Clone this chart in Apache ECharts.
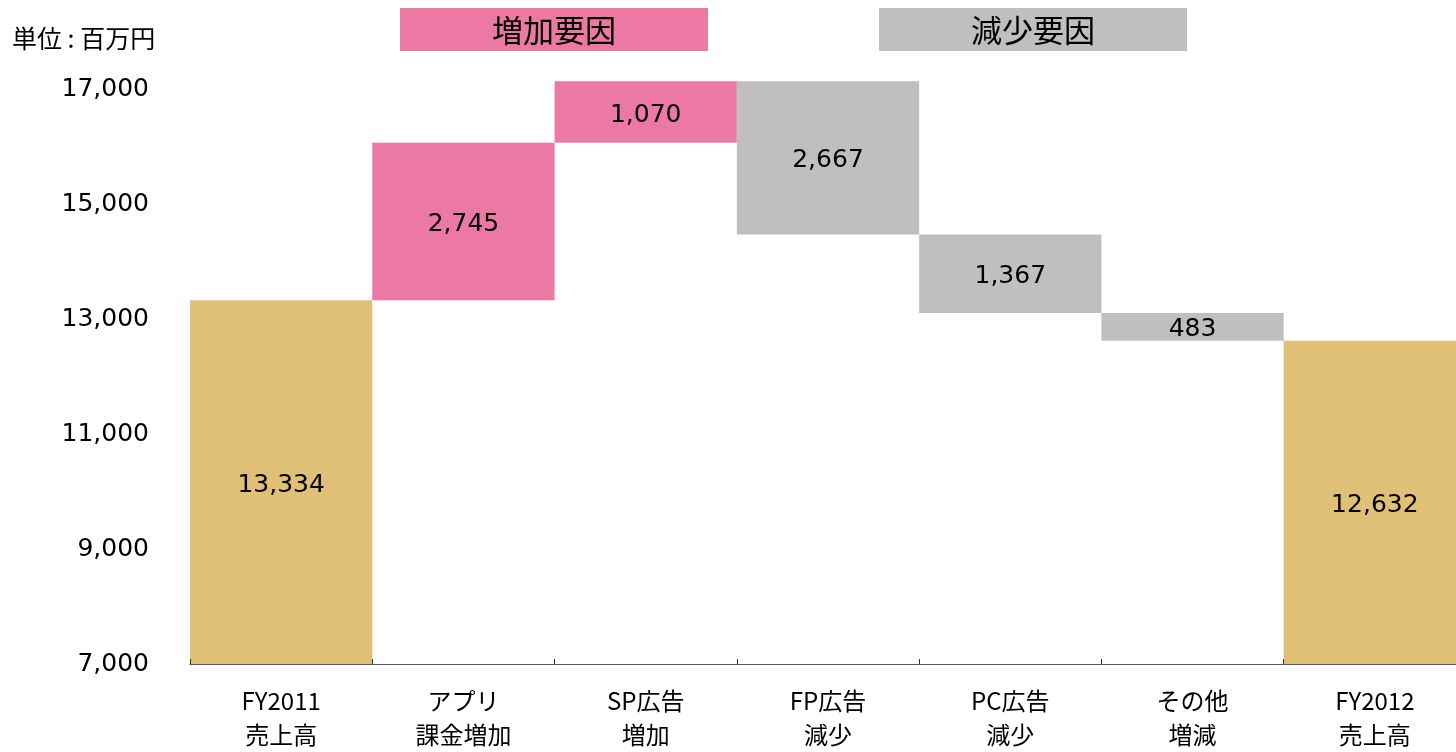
<!DOCTYPE html>
<html>
<head>
<meta charset="utf-8">
<title>売上高 増減要因</title>
<script src="https://cdn.jsdelivr.net/npm/echarts@6/dist/echarts.min.js"></script>
<style>
  html, body { margin: 0; padding: 0; background: #fff; overflow: hidden; }
  /* the last column runs slightly past the right edge of the page */
  #chart { width: 1466px; height: 752px; }
</style>
</head>
<body>
<div id="chart"></div>
<script>
// Categories (two-line axis labels)
const categories = ['FY2011\n売上高', 'アプリ\n課金増加', 'SP広告\n増加', 'FP広告\n減少', 'PC広告\n減少', 'その他\n増減', 'FY2012\n売上高'];

// Values in 百万円
const startTotal = 13334;            // FY2011 売上高
const increases = [2745, 1070];      // アプリ課金増加, SP広告増加
const decreases = [2667, 1367, 483]; // FP広告減少, PC広告減少, その他増減
const endTotal = 12632;              // FY2012 売上高

// Y-axis tick labels
const yTicks = [7000, 9000, 11000, 13000, 15000, 17000];

const COLOR_TOTAL = '#E0C076';
const COLOR_UP = '#EC79A3';
const COLOR_DOWN = '#BFBFBF';

// Build the waterfall: invisible base + visible step
const baseData = [];
const stepData = [];
let running = startTotal;
baseData.push(0);
stepData.push({ value: startTotal, itemStyle: { color: COLOR_TOTAL } });
increases.forEach(v => {
  baseData.push(running);
  stepData.push({ value: v, itemStyle: { color: COLOR_UP } });
  running += v;
});
decreases.forEach(v => {
  running -= v;
  baseData.push(running);
  stepData.push({ value: v, itemStyle: { color: COLOR_DOWN } });
});
baseData.push(0);
stepData.push({ value: endTotal, itemStyle: { color: COLOR_TOTAL } });

const fmt = v => Number(v).toLocaleString('en-US');
const JP = '"Noto Sans CJK JP", sans-serif';
const NUM = '"DejaVu Sans", sans-serif';

const chart = echarts.init(document.getElementById('chart'), null, { renderer: 'canvas' });
chart.setOption({
  animation: false,
  backgroundColor: '#ffffff',
  grid: { left: 190, right: 0, top: 78.4, bottom: 82, containLabel: false },
  xAxis: {
    type: 'category',
    data: categories,
    z: 10,
    axisLine: { lineStyle: { color: '#5a5a5a', width: 1 } },
    axisTick: { show: true, inside: true, length: 5, alignWithLabel: false, lineStyle: { color: '#333' } },
    axisLabel: {
      color: '#000', fontFamily: JP, fontSize: 24, lineHeight: 34, margin: 20, interval: 0
    },
    splitLine: { show: false }
  },
  yAxis: {
    type: 'value',
    min: yTicks[0],
    max: 17200,
    interval: yTicks[1] - yTicks[0],
    axisLine: { show: false },
    axisTick: { show: false },
    splitLine: { show: false },
    axisLabel: {
      color: '#000', fontFamily: NUM, fontSize: 25, margin: 41,
      showMaxLabel: false, padding: [0, 0, 8, 0],
      formatter: v => fmt(v)
    }
  },
  series: [
    {
      type: 'bar', stack: 'wf', data: baseData, barCategoryGap: 0,
      itemStyle: { color: 'rgba(0,0,0,0)' }, silent: true, clip: true
    },
    {
      type: 'bar', stack: 'wf', data: stepData, barCategoryGap: 0, clip: true,
      label: {
        show: true, position: 'inside', offset: [0, 3], color: '#000', fontFamily: NUM, fontSize: 25,
        formatter: p => fmt(p.value)
      }
    }
  ],
  graphic: [
    { type: 'text', left: 12, top: 26, style: { text: '単位 : 百万円', font: '25px ' + JP, fill: '#000' } },
    { type: 'rect', shape: { x: 400, y: 8, width: 308, height: 43 }, style: { fill: COLOR_UP } },
    { type: 'text', x: 554, y: 30, style: { text: '増加要因', font: '31px ' + JP, fill: '#000', align: 'center', verticalAlign: 'middle' } },
    { type: 'rect', shape: { x: 879, y: 8, width: 308, height: 43 }, style: { fill: COLOR_DOWN } },
    { type: 'text', x: 1033, y: 30, style: { text: '減少要因', font: '31px ' + JP, fill: '#000', align: 'center', verticalAlign: 'middle' } }
  ]
});
</script>
</body>
</html>
